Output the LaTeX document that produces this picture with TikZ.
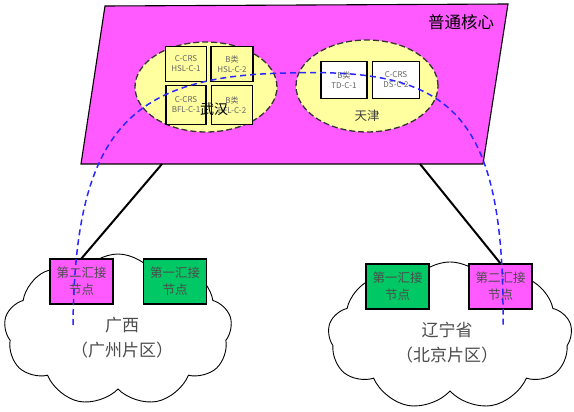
\documentclass[tikz,border=0pt]{standalone}
\usepackage{fontspec}
\setmainfont{Noto Sans CJK SC}
\usepackage{tikz}
\usetikzlibrary{shapes, shapes.symbols, arrows.meta, positioning, calc}
\definecolor{coreMagenta}{RGB}{255, 90, 255}
\definecolor{siteYellow}{RGB}{255, 255, 160}
\definecolor{nodeGreen}{RGB}{0, 200, 100}
\definecolor{linkBlue}{RGB}{40, 40, 255}
\definecolor{labelGrey}{RGB}{100, 100, 100}

\begin{document}
\begin{tikzpicture}[x=1pt, y=-1pt,
				core/.style      = {draw=black, line width=1.1pt, fill=coreMagenta},
				site/.style      = {draw=black!80, line width=1.3pt, dash pattern=on 6pt off 3pt,
					fill=siteYellow, ellipse, inner sep=0pt},
				dev/.style       = {draw=black, line width=1.1pt, rectangle, align=center,
					inner sep=0pt, font=\fontsize{8}{10}\selectfont, text=labelGrey},
				region/.style    = {draw=black, line width=0.9pt, cloud, cloud puffs=9,
					cloud puff arc=115, aspect=1.6, fill=white, inner sep=0pt},
				hub/.style       = {draw=black, line width=1.1pt, rectangle, minimum width=63pt,
					minimum height=45pt, align=center, font=\fontsize{12.5}{17}\selectfont,
					text=black!70},
				trunk/.style     = {draw=black, line width=2pt},
				path_link/.style = {draw=linkBlue, line width=1.5pt, dash pattern=on 6pt off 4pt}
				]
				\useasboundingbox (0,0) rectangle (574,412);
				
				% core network plane
				\draw[core] (105,6) -- (508,4) -- (483,164) -- (81,164) -- cycle;
				\node[font=\fontsize{16.5}{16.5}\selectfont] (core_lbl) at (461,22) {普通核心};
				\coordinate (core_l) at (162,164);
				\coordinate (core_r) at (420,164);
				
				% sites
				\node[site, minimum width=142pt, minimum height=90pt] (wuhan) at (206,87) {};
				\node[site, minimum width=142pt, minimum height=92pt] (tianjin) at (367,86) {};
				
				\node[dev, fill=siteYellow, minimum width=41pt, minimum height=35pt] (wh1) at (186,64) {C-CRS\\HSL-C-1};
				\node[dev, fill=siteYellow, minimum width=42pt, minimum height=35pt] (wh2) at (232,64) {B类\\HSL-C-2};
				\node[dev, fill=siteYellow, minimum width=40pt, minimum height=39pt] (wh3) at (186,105) {C-CRS\\BFL-C-1};
				\node[dev, fill=siteYellow, minimum width=41pt, minimum height=39pt] (wh4) at (232,105) {B类\\BFL-C-2};
				\node[font=\fontsize{14}{14}\selectfont] (wuhan_lbl) at (214,109) {武汉};
				
				\node[dev, fill=white, minimum width=46pt, minimum height=37pt] (tj1) at (344,80) {B类\\TD-C-1};
				\node[dev, fill=white, minimum width=47pt, minimum height=37pt] (tj2) at (396,80) {C-CRS\\DS-C-2};
				\node[font=\fontsize{12.5}{12.5}\selectfont, text=black!75] (tianjin_lbl) at (367,116) {天津};
				
				% regions
				\node[region, minimum width=228pt, minimum height=152pt] (gx) at (118,330) {};
				\node[align=center, font=\fontsize{17}{25}\selectfont, text=black!70] (gx_lbl) at (122,338) {广西\\（广州片区）};
				\node[region, minimum width=244pt, minimum height=148pt] (ln) at (450,336) {};
				\node[align=center, font=\fontsize{17}{25}\selectfont, text=black!70] (ln_lbl) at (447,343) {辽宁省\\（北京片区）};
				
				\node[hub, fill=coreMagenta] (gx_hub2) at (81.5,281.5) {第二汇接\\节点};
				\node[hub, fill=nodeGreen] (gx_hub1) at (175,281.5) {第一汇接\\节点};
				\node[hub, fill=nodeGreen] (ln_hub1) at (397.5,286.5) {第一汇接\\节点};
				\node[hub, fill=coreMagenta] (ln_hub2) at (500.5,286.5) {第二汇接\\节点};
				
				% links
				\draw[trunk] (core_l) -- (gx_hub2.north);
				\draw[trunk] (core_r) -- (ln_hub2.north);
				
				\coordinate (path_s) at (73,325);
				\coordinate (path_top) at (290,73);
				\coordinate (path_e) at (503,325);
				\draw[path_link] (path_s) .. controls (75,130) and (130,75) .. (path_top)
				.. controls (450,68) and (505,110) .. (path_e);
			\end{tikzpicture}
\end{document}
